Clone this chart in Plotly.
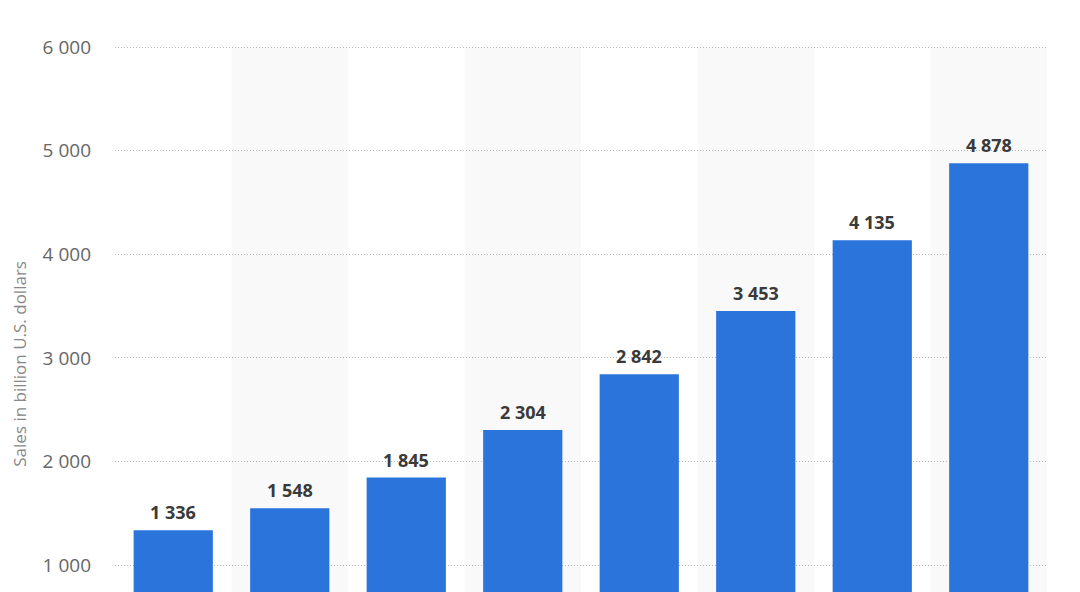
import plotly.graph_objects as go

# years are cut off in the reference; categories kept as placeholders
years = ["2014", "2015", "2016", "2017", "2018", "2019", "2020", "2021"]
sales = [1336, 1548, 1845, 2304, 2842, 3453, 4135, 4878]
y_ticks = [1000, 2000, 3000, 4000, 5000, 6000]

bar_color = "#2a74db"
band_color = "#f9f9f9"


def fmt(v):
    return "{:,}".format(v).replace(",", " ")


fig = go.Figure()
fig.add_trace(go.Bar(
    x=years,
    y=sales,
    marker=dict(color=bar_color, line=dict(width=0)),
    width=0.68,
    hoverinfo="skip",
))

# light gray bands behind every second column
shapes = []
for i, yr in enumerate(years):
    if i % 2 == 1:
        shapes.append(dict(
            type="rect", xref="x", yref="y",
            x0=i - 0.5, x1=i + 0.5, y0=0, y1=6000,
            fillcolor=band_color, line=dict(width=0), layer="below",
        ))

# value labels above bars
annotations = []
for i, v in enumerate(sales):
    annotations.append(dict(
        x=i, y=v, xref="x", yref="y",
        text="<b>" + fmt(v) + "</b>", showarrow=False,
        xanchor="center", yanchor="bottom", yshift=4,
        font=dict(family="Open Sans", size=18, color="#3a3a3a"),
    ))

annotations.append(dict(
    text="Sales in billion U.S. dollars",
    xref="paper", yref="paper", x=-0.102, y=0.418,
    xanchor="center", yanchor="middle", textangle=-90,
    showarrow=False,
    font=dict(family="Open Sans", size=17, color="#888888"),
))

fig.update_layout(
    width=1080, height=592,
    margin=dict(l=107, r=41, t=38, b=8),
    paper_bgcolor="white",
    plot_bgcolor="white",
    showlegend=False,
    shapes=shapes,
    annotations=annotations,
    xaxis=dict(
        showticklabels=False, showgrid=False, zeroline=False,
        range=[-0.5, len(years) - 0.5],
    ),
    yaxis=dict(
        range=[740, 6010],
        tickvals=y_ticks,
        ticktext=[fmt(v) for v in y_ticks],
        tickfont=dict(family="Open Sans", size=19, color="#666666"),
        ticks="", ticklabelstandoff=23,
        showgrid=True, gridcolor="#b8b8b8", griddash="1px,2px", gridwidth=1,
        zeroline=False, showline=False,
    ),
)

fig.write_html("out.html")
